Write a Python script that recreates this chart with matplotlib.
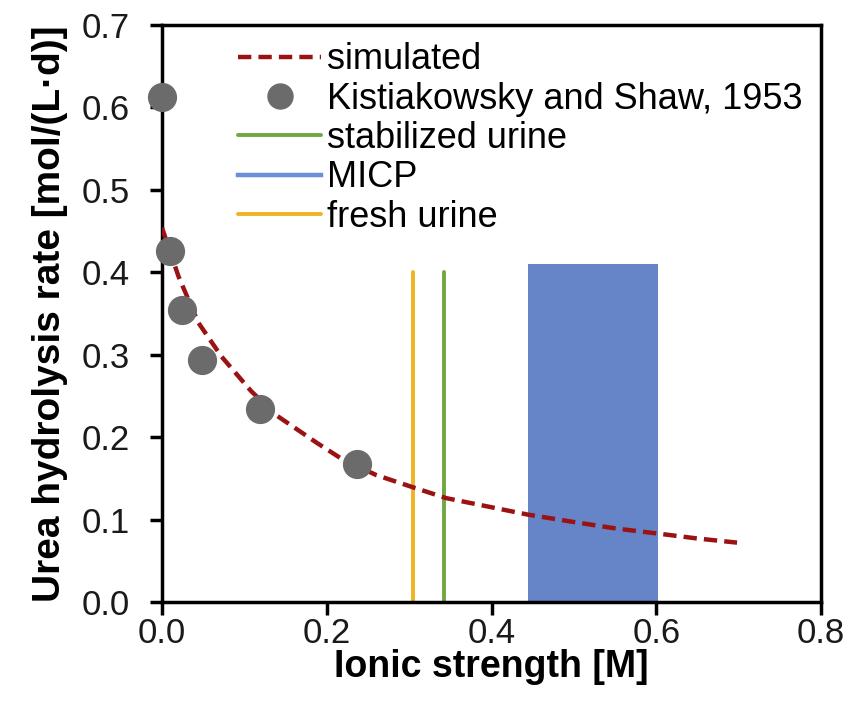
import matplotlib
matplotlib.use('Agg')
import matplotlib.pyplot as plt
from matplotlib.ticker import FormatStrFormatter
import numpy as np

plt.rcParams['font.family'] = ['Liberation Sans', 'DejaVu Sans']

# simulated rate curve (ionic strength M, rate mol/(L*d))
sim_I = [0.0, 0.020, 0.044, 0.072, 0.108, 0.138, 0.188, 0.219, 0.260, 0.305,
         0.345, 0.444, 0.500, 0.552, 0.602, 0.650, 0.698]
sim_rate = [0.454, 0.395, 0.339, 0.298, 0.256, 0.227, 0.193, 0.173, 0.154, 0.139,
            0.126, 0.106, 0.097, 0.089, 0.083, 0.077, 0.072]

# Kistiakowsky and Shaw, 1953
ks_I = [0.0, 0.010, 0.024, 0.048, 0.119, 0.237]
ks_rate = [0.612, 0.426, 0.354, 0.293, 0.234, 0.167]

fresh_I = 0.305
stab_I = 0.342
line_top = 0.40
micp_range = [0.444, 0.602]
micp_top = 0.41

fig = plt.figure(figsize=(8.5, 7.13), dpi=100)
ax = fig.add_axes([0.1906, 0.1557, 0.7754, 0.8093])

ax.bar((micp_range[0] + micp_range[1]) / 2, micp_top,
       width=micp_range[1] - micp_range[0], color='#6684C8', zorder=1)
ax.plot(sim_I, sim_rate, ls=(0, (3, 1.6)), color='#9B1212', lw=3.2,
        label='simulated', zorder=3)
ax.plot(ks_I, ks_rate, 'o', color='#6B6B6B', ms=20, mec='#6B6B6B',
        label='Kistiakowsky and Shaw, 1953', zorder=4, clip_on=False)
ax.plot([stab_I, stab_I], [0, line_top], color='#70A840', lw=2.8,
        solid_capstyle='round', label='stabilized urine', zorder=2)
ax.plot([], [], color='#6B8FD6', lw=3.2, label='MICP')
ax.plot([fresh_I, fresh_I], [0, line_top], color='#F0B323', lw=2.8,
        solid_capstyle='round', label='fresh urine', zorder=2)

ax.set_xlim(0, 0.8)
ax.set_ylim(0, 0.7)
ax.set_xticks(np.arange(0, 0.81, 0.2))
ax.set_yticks(np.arange(0, 0.71, 0.1))
ax.xaxis.set_major_formatter(FormatStrFormatter('%.1f'))
ax.yaxis.set_major_formatter(FormatStrFormatter('%.1f'))
ax.tick_params(direction='out', length=9, width=2.5, labelsize=25,
               labelcolor='#1a1a1a')
ax.tick_params(axis='x', pad=2)
ax.tick_params(axis='y', pad=14)
for s in ax.spines.values():
    s.set_linewidth(2.5)

ax.set_xlabel('Ionic strength [M]', fontsize=27, fontweight='bold', labelpad=-1)
ax.set_ylabel('Urea hydrolysis rate [mol/(L·d)]', fontsize=28, fontweight='bold',
              labelpad=10)

ax.legend(loc='upper left', bbox_to_anchor=(0.094, 0.995), frameon=False,
          fontsize=26, handlelength=2.3, handletextpad=0.15, labelspacing=0.12,
          borderaxespad=0, markerscale=0.9)

fig.savefig('out.png', dpi=100, facecolor='white')
